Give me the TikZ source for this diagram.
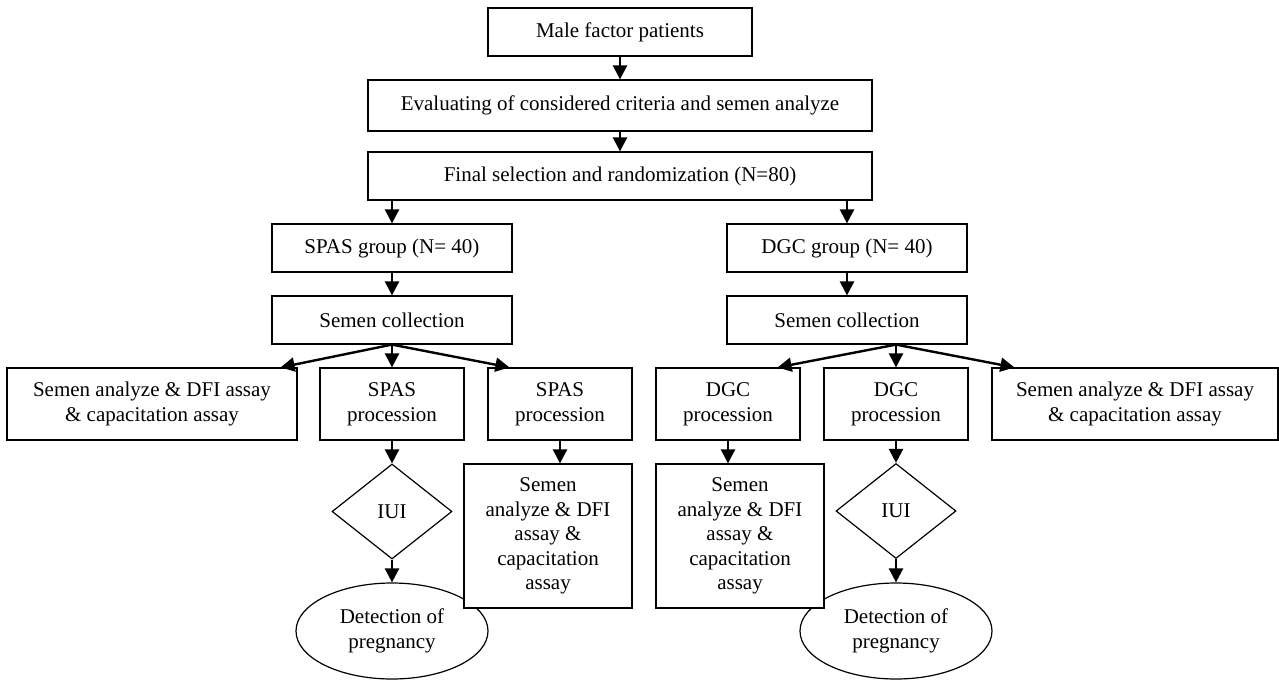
\documentclass[tikz,border=0pt]{standalone}
\usepackage{fontspec}
\setmainfont{Liberation Serif}
\usetikzlibrary{shapes.geometric}
\usetikzlibrary{arrows.meta}

\begin{document}
\begin{tikzpicture}[x=0.5pt,y=-0.5pt,
	font=\fontsize{10.5}{12.3}\selectfont,
  box/.style={rectangle,draw,line width=0.6pt,fill=white,align=center,inner sep=1pt},
  wide/.style={box,minimum width=252pt,minimum height=24pt},
  grp/.style={box,minimum width=120pt,minimum height=24pt},
  proc/.style={box,minimum width=72pt,minimum height=36pt},
  assay/.style={box,minimum width=144pt,minimum height=36pt},
  tall/.style={box,minimum width=84pt,minimum height=72pt},
  iui/.style={diamond,draw,line width=0.6pt,inner sep=0pt,minimum width=60pt,minimum height=47.5pt},
  preg/.style={ellipse,draw,line width=0.6pt,fill=white,align=center,inner sep=0pt,minimum width=96pt,minimum height=48pt},
  flow/.style={-{Triangle[length=7pt,width=7pt]},line width=1.2pt}]
  \useasboundingbox (0,0) rectangle (1279,680);

	% trunk
  \node[box,minimum width=132pt,minimum height=24pt] (male) at (620,32) {Male factor patients};
  \node[wide,minimum height=25.5pt] (eval) at (620,105.5) {Evaluating of considered criteria and semen analyze};
  \node[wide] (final) at (620,176) {Final selection and randomization (N=80)};

	% SPAS side
  \node[grp] (spasgrp) at (392,248) {SPAS group (N= 40)};
  \node[grp] (spascoll) at (392,320) {Semen collection};
  \node[assay,minimum width=145pt] (spasassay) at (152,404) {Semen analyze \& DFI assay\\\& capacitation assay};
  \node[proc] (spasproc1) at (392,404) {SPAS\\procession};
  \node[proc] (spasproc2) at (560,404) {SPAS\\procession};
  \node[iui] (spasiui) at (392,511.5) {IUI};
  \node[preg] (spaspreg) at (392,631) {Detection of\\pregnancy};
  \node[tall] (spastall) at (548,536) {Semen\\analyze \& DFI\\assay \&\\capacitation\\assay};

	% DGC side
  \node[grp] (dgcgrp) at (847,248) {DGC group (N= 40)};
  \node[grp] (dgccoll) at (847,320) {Semen collection};
  \node[proc] (dgcproc1) at (728,404) {DGC\\procession};
  \node[proc] (dgcproc2) at (896,404) {DGC\\procession};
  \node[assay,minimum width=143pt] (dgcassay) at (1135,404) {Semen analyze \& DFI assay\\\& capacitation assay};
  \node[iui] (dgciui) at (896,511) {IUI};
  \node[preg] (dgcpreg) at (896,631) {Detection of\\pregnancy};
  \node[tall] (dgctall) at (740,536) {Semen\\analyze \& DFI\\assay \&\\capacitation\\assay};

  \draw[flow] (male) -- (eval);
  \draw[flow] (eval) -- (final);
  \draw[flow] (spasgrp.north |- final.south) -- (spasgrp);
  \draw[flow] (dgcgrp.north |- final.south) -- (dgcgrp);

  \draw[flow] (spasgrp) -- (spascoll);
  \draw[flow] (spascoll.south) -- ([xshift=-8.5pt]spasassay.north east);
  \draw[flow] (spascoll.south) -- (spasproc1);
  \draw[flow] (spascoll.south) -- ([xshift=11pt]spasproc2.north west);
  \draw[flow] (spasproc1) -- (spasiui);
  \draw[flow] (spasiui) -- (spaspreg);
  \draw[flow] (spasproc2.south) -- (spasproc2.south |- spastall.north);

  \draw[flow] (dgcgrp) -- (dgccoll);
  \draw[flow] (dgcproc2.north |- dgccoll.south) -- ([xshift=-11.5pt]dgcproc1.north east);
  \draw[flow] (dgcproc2.north |- dgccoll.south) -- (dgcproc2);
  \draw[flow] (dgcproc2.north |- dgccoll.south) -- ([xshift=11.5pt]dgcassay.north west);
  \draw[flow] (dgcproc1.south) -- (dgcproc1.south |- dgctall.north);
  \draw[flow] (dgcproc2) -- (dgciui);
  \draw[flow] (dgciui) -- (dgcpreg);
\end{tikzpicture}
\end{document}
